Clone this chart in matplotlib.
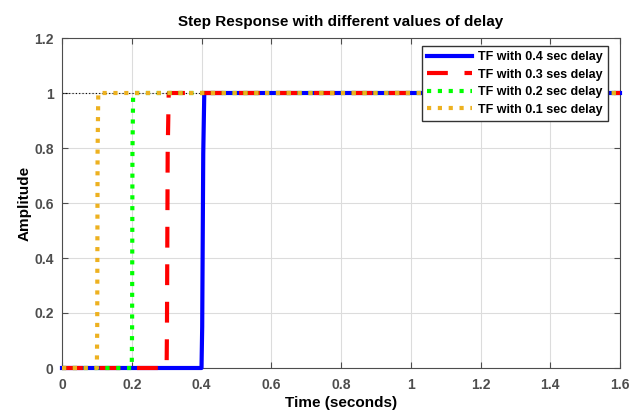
import matplotlib
matplotlib.use('Agg')
import matplotlib.pyplot as plt

# step response samples (time, amplitude)
t_04 = [0.0, 0.400, 0.402, 0.405, 0.408, 1.6]
y_04 = [0.0, 0.0, 0.15, 0.78, 1.0, 1.0]
t_03 = [0.0, 0.300, 0.301, 0.303, 0.306, 1.6]
y_03 = [0.0, 0.0, 0.15, 0.78, 1.0, 1.0]
t_02 = [0.0, 0.200, 0.201, 0.202, 0.204, 1.6]
y_02 = [0.0, 0.0, 0.15, 0.78, 1.0, 1.0]
t_01 = [0.0, 0.100, 0.101, 0.102, 0.104, 1.6]
y_01 = [0.0, 0.0, 0.15, 0.78, 1.0, 1.0]
labels = ["TF with 0.4 sec delay", "TF with 0.3 ses delay",
          "TF with 0.2 sec delay", "TF with 0.1 sec delay"]

plt.rcParams['font.family'] = ['Liberation Sans', 'DejaVu Sans']

fig = plt.figure(figsize=(6.41, 4.12), dpi=100)
ax = fig.add_axes([62 / 641, 1 - 368 / 412, 558 / 641, 330 / 412])

ax.plot(t_04, y_04, color='#0000ff', lw=3, label=labels[0], zorder=3, clip_on=False)
ax.plot(t_03, y_03, color='#ff0000', lw=3, ls=(0, (5, 4)), label=labels[1], zorder=4, clip_on=False)
ax.plot(t_02, y_02, color='#00ff00', lw=3, ls=(0, (1, 1.6)), label=labels[2], zorder=5, clip_on=False)
ax.plot(t_01, y_01, color='#edb120', lw=3, ls=(0, (1, 1.6)), label=labels[3], zorder=6, clip_on=False)
# steady state marker
ax.plot([0, 1.6], [1, 1], color='k', lw=0.8, ls=(0, (1, 2)), zorder=2)

ax.set_xlim(0, 1.6)
ax.set_ylim(0, 1.2)
ax.set_xticks([0, 0.2, 0.4, 0.6, 0.8, 1, 1.2, 1.4, 1.6])
ax.set_xticklabels(['0', '0.2', '0.4', '0.6', '0.8', '1', '1.2', '1.4', '1.6'])
ax.set_yticks([0, 0.2, 0.4, 0.6, 0.8, 1, 1.2])
ax.set_yticklabels(['0', '0.2', '0.4', '0.6', '0.8', '1', '1.2'])
ax.grid(True, color='#dcdcdc', lw=0.8)
ax.set_axisbelow(True)
for s in ax.spines.values():
    s.set_color('#4d4d4d')
ax.tick_params(colors='#4d4d4d', labelcolor='#4d4d4d', direction='in', length=4,
               top=True, right=True, labelsize=10)
ax.tick_params(axis='x', pad=7)
ax.tick_params(axis='y', pad=6)
for lab in ax.get_xticklabels() + ax.get_yticklabels():
    lab.set_fontweight('bold')

ax.set_title("Step Response with different values of delay", fontsize=11, fontweight='bold', pad=9)
ax.set_xlabel("Time (seconds)", fontsize=11, fontweight='bold', labelpad=3)
ax.set_ylabel("Amplitude", fontsize=11, fontweight='bold', labelpad=2)

leg = ax.legend(loc='upper right', prop={'weight': 'bold', 'size': 9}, fancybox=False,
                edgecolor='#333333', framealpha=1, handlelength=3.6, borderpad=0.4,
                labelspacing=0.45, handletextpad=0.5, bbox_to_anchor=(0.99, 0.995))
leg.get_frame().set_linewidth(1)
leg.set_zorder(10)

plt.savefig('out.png', dpi=100)
